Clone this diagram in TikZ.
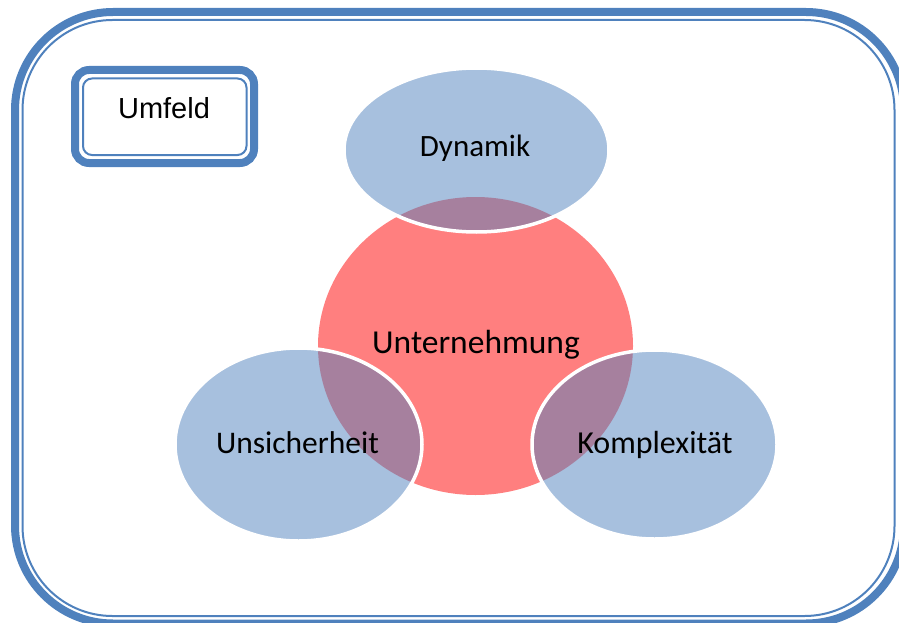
\documentclass[tikz,border=0pt]{standalone}
\usepackage{fontspec}
\setmainfont{Carlito}
\newfontfamily\arialfont{Liberation Sans}
\usetikzlibrary{shapes.geometric}
\definecolor{frameblue}{HTML}{4F81BD}
\definecolor{corered}{HTML}{FF7F7F}
\tikzset{
  bubble/.style={ellipse, inner sep=0pt, fill=frameblue, fill opacity=0.5, draw=white, draw opacity=1, line width=3.5pt},
  bubbletext/.style={anchor=base, inner sep=0pt, text=black, font=\fontsize{31}{37}\selectfont},
}
\begin{document}
\begin{tikzpicture}[x=1pt,y=-1pt]
\useasboundingbox (0,0) rectangle (899,623);
% outer frame
\draw[frameblue, line width=8pt, rounded corners=98pt] (15,12) rectangle (904,623.5);
\draw[frameblue, line width=2pt, rounded corners=90pt] (22.5,20) rectangle (894.5,616);
% Umfeld box
\draw[frameblue, line width=8pt, rounded corners=14pt] (75,70) rectangle (254,163);
\draw[frameblue, line width=2pt, rounded corners=9pt] (83,78.5) rectangle (246.5,155);
\node[anchor=base, inner sep=0pt, font={\arialfont\fontsize{29}{34}\selectfont}] (umfeld) at (164,119) {Umfeld};
% core circle
\node[ellipse, inner sep=0pt, fill=corered, minimum width=315pt, minimum height=298pt] (core) at (475.5,346) {};
% bubbles
\node[bubble, minimum width=265pt, minimum height=164pt] (dyn) at (476.5,150) {};
\node[bubble, minimum width=247pt, minimum height=193pt] (uns) at (298.5,444.5) {};
\node[bubble, minimum width=245pt, minimum height=189pt] (kom) at (654.5,444.5) {};
% texts
\node[bubbletext] (tdyn) at (475,157) {Dynamik};
\node[bubbletext, font=\fontsize{33.5}{40}\selectfont] (tcore) at (476,353) {Unternehmung};
\node[bubbletext, font=\fontsize{31.5}{38}\selectfont] (tuns) at (297.5,453) {Unsicherheit};
\node[bubbletext, font=\fontsize{32}{38}\selectfont] (tkom) at (655,453) {Komplexität};
\end{tikzpicture}
\end{document}
